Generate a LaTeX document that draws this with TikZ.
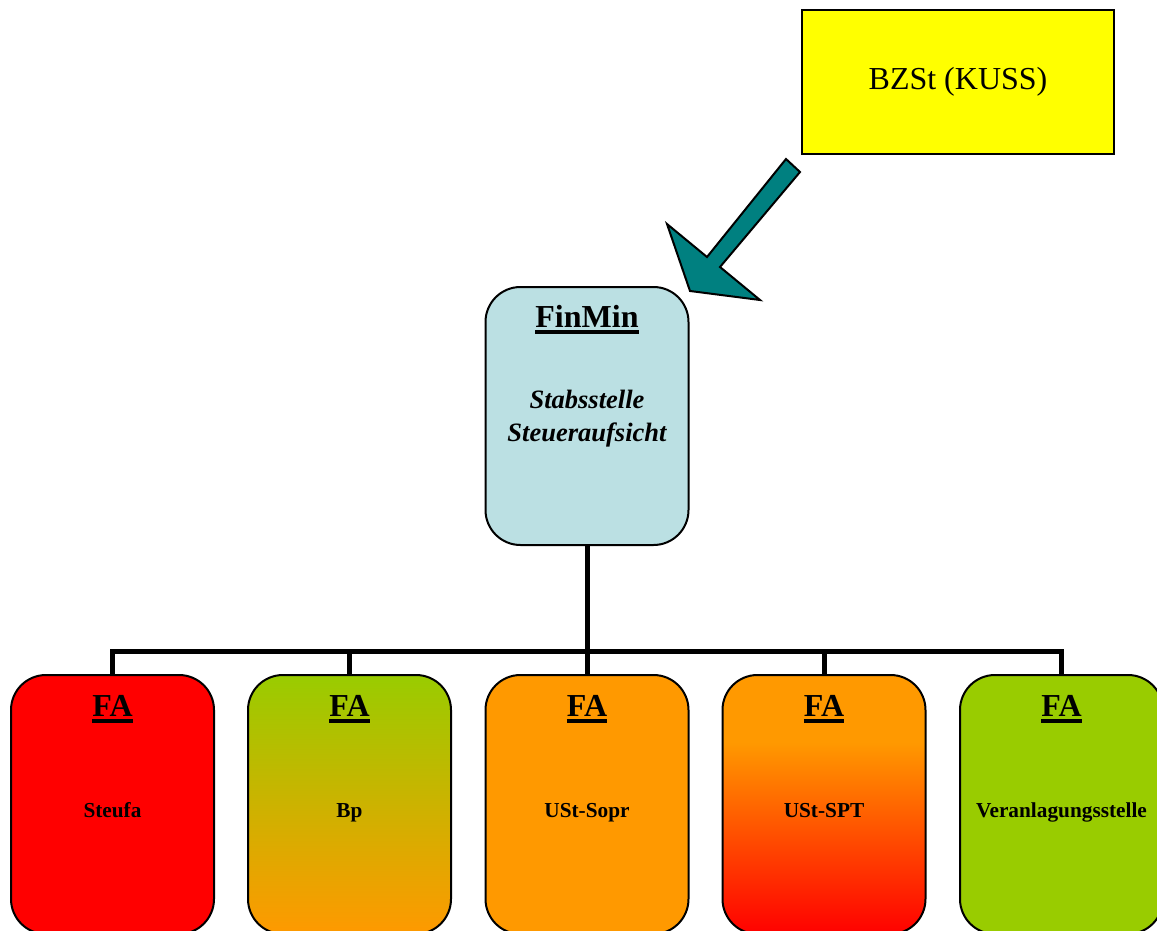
\documentclass[tikz,border=0pt]{standalone}
\usepackage{fontspec}
\setmainfont{Liberation Serif}
\definecolor{finblue}{HTML}{BBE0E3}
\definecolor{faorange}{HTML}{FF9900}
\definecolor{fagreen}{HTML}{99CC00}
\definecolor{arrteal}{HTML}{008080}
\definecolor{bzyellow}{HTML}{FFFF00}
\pgfdeclareverticalshading{sptshade}{100bp}{color(0bp)=(red); color(25bp)=(red); color(62bp)=(faorange); color(100bp)=(faorange)}
\newcommand\myul[1]{\leavevmode\setbox0=\hbox{#1}\rlap{\rule[-7pt]{\wd0}{4pt}}\box0}
\tikzset{
  fabox/.style={draw=black, line width=2pt, rounded corners=35pt, minimum width=203pt, minimum height=259pt, inner sep=0pt},
  fatitle/.style={anchor=base, inner sep=0pt, font=\fontsize{32}{38}\selectfont\bfseries},
  falabel/.style={anchor=base, inner sep=0pt, font=\fontsize{21.3}{26}\selectfont\bfseries},
  conn/.style={line width=5pt, draw=black, line join=miter},
}
\begin{document}
\begin{tikzpicture}[x=1pt,y=-1pt]
\useasboundingbox (0,0) rectangle (1157,931);
\clip (0,0) rectangle (1157,931);
% BZSt box
\node[draw=black, line width=1.5pt, fill=bzyellow, minimum width=312pt, minimum height=144pt, inner sep=0pt,
      font=\fontsize{32}{38}\selectfont] (bzst) at (958,82) {BZSt (KUSS)};
% arrow
\filldraw[fill=arrteal, draw=black, line width=2pt, line join=miter]
  (786,159) -- (707,257) -- (667,224) -- (690,291) -- (760,300) -- (720,267) -- (800,172) -- cycle;
% FinMin box
\node[draw=black, line width=2pt, fill=finblue, rounded corners=35pt, minimum width=203pt, minimum height=258pt, inner sep=0pt] (finmin) at (587,416) {};
\node[fatitle] (finmintitle) at (587,327) {\myul{FinMin}};
\node[anchor=base, inner sep=0pt, align=center, font=\fontsize{26.5}{33}\selectfont\bfseries\itshape] (stab) at (587,441) {Stabsstelle\\Steueraufsicht};
% boxes
\coordinate (bar) at (587,651);
\node[fabox, fill=red] (fa1) at (112.5,804.5) {};
\node[fabox, top color=fagreen, bottom color=faorange] (fa2) at (349.5,804.5) {};
\node[fabox, fill=faorange] (fa3) at (587,804.5) {};
\node[fabox, shading=sptshade] (fa4) at (824,804.5) {};
\node[fabox, fill=fagreen] (fa5) at (1061.5,804.5) {};
% connectors
\draw[conn] (finmin.south) -- (bar);
\draw[conn] (fa1.north) -- (fa1.north |- bar) -- (fa5.north |- bar) -- (fa5.north);
\draw[conn] (fa2.north) -- (fa2.north |- bar);
\draw[conn] (fa3.north) -- (fa3.north |- bar);
\draw[conn] (fa4.north) -- (fa4.north |- bar);
% labels
\node[fatitle] (fa1t) at (112.5,716) {\myul{FA}};
\node[fatitle] (fa2t) at (349.5,716) {\myul{FA}};
\node[fatitle] (fa3t) at (587,716) {\myul{FA}};
\node[fatitle] (fa4t) at (824,716) {\myul{FA}};
\node[fatitle] (fa5t) at (1061.5,716) {\myul{FA}};
\node[falabel] (fa1l) at (112.5,817) {Steufa};
\node[falabel] (fa2l) at (349.5,817) {Bp};
\node[falabel] (fa3l) at (587,817) {USt-Sopr};
\node[falabel] (fa4l) at (824,817) {USt-SPT};
\node[falabel] (fa5l) at (1061.5,817) {Veranlagungsstelle};
\end{tikzpicture}
\end{document}
